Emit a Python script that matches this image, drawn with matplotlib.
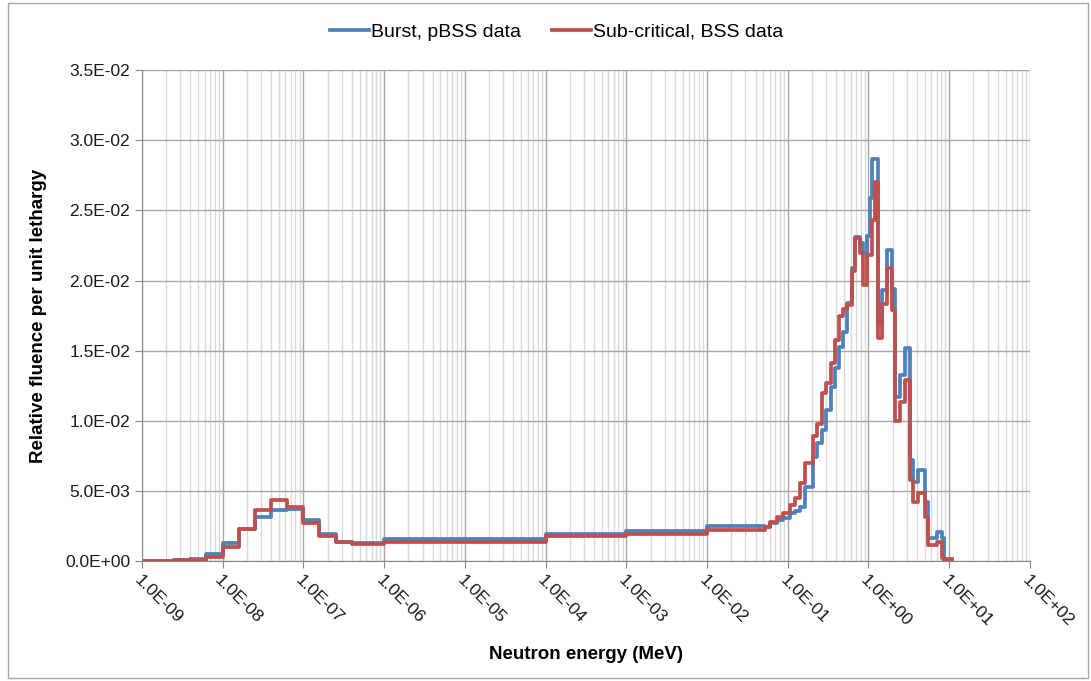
import numpy as np
import matplotlib
matplotlib.use("Agg")
import matplotlib.pyplot as plt
from matplotlib.ticker import LogLocator, NullFormatter, FuncFormatter, MultipleLocator
from matplotlib.patches import Rectangle

plt.rcParams['font.family'] = ['Liberation Sans', 'DejaVu Sans']

# bin edges (MeV): 5/decade thermal, then wide epithermal bins, then fine fast bins
edges_mev = [1.0e-9, 1.58e-9, 2.51e-9, 3.98e-9, 6.31e-9,
             1.0e-8, 1.58e-8, 2.51e-8, 3.98e-8, 6.31e-8,
             1.0e-7, 1.58e-7, 2.51e-7, 3.98e-7, 6.31e-7,
             1.0e-6, 1.0e-4, 1.0e-3, 1.0e-2,
             0.052, 0.060, 0.073, 0.087, 0.106, 0.122, 0.141, 0.163, 0.204, 0.229,
             0.264, 0.296, 0.340, 0.382, 0.428, 0.480, 0.538, 0.621, 0.676, 0.780,
             0.849, 0.951, 1.036, 1.097, 1.195, 1.302, 1.459, 1.683, 1.941, 2.114,
             2.438, 2.812, 3.243, 3.532, 4.074, 4.977, 5.42, 7.0, 8.07, 8.55, 10.7]

# relative fluence per unit lethargy, x1e-3
burst_pbss = [0.02, 0.03, 0.05, 0.15, 0.5, 1.26, 2.3, 3.16, 3.68, 3.7,
              2.92, 1.97, 1.38, 1.26, 1.3,
              1.55, 1.97, 2.18, 2.5,
              2.45, 2.69, 2.92, 3.1, 3.4, 3.6, 3.87, 5.3, 7.43, 8.4,
              9.34, 10.8, 12.4, 13.8, 15.3, 16.3, 18.4, 20.9, 23.1, 22.7,
              22.0, 23.2, 25.9, 28.7, 28.7, 16.9, 19.3, 22.2, 19.4, 11.7,
              13.3, 15.2, 7.2, 5.65, 6.5, 4.23, 1.62, 2.09, 1.62, 0.0]

subcrit_bss = [0.02, 0.03, 0.05, 0.1, 0.3, 1.0, 2.26, 3.68, 4.35, 3.83,
               2.73, 1.78, 1.33, 1.23, 1.22,
               1.35, 1.78, 1.95, 2.25,
               2.45, 2.8, 3.16, 3.44, 4.0, 4.5, 5.6, 7.0, 8.9, 9.8,
               12.0, 12.7, 14.1, 15.75, 17.5, 18.0, 18.25, 20.7, 23.0, 22.0,
               19.7, 21.8, 21.8, 24.3, 27.0, 15.9, 18.3, 20.9, 17.9, 10.0,
               11.35, 12.9, 5.77, 4.23, 4.83, 3.16, 1.14, 1.38, 0.19, 0.12]

series = [("Burst, pBSS data", burst_pbss, "#4F81BD"),
          ("Sub-critical, BSS data", subcrit_bss, "#C0504D")]

fig = plt.figure(figsize=(10.91, 6.81), dpi=100)
ax = fig.add_axes([0.130, 0.176, 0.814, 0.721])

x = np.array(edges_mev)
for name, vals, col in series:
    y = np.array(vals) * 1e-3
    y = np.append(y, y[-1])
    ax.plot(x, y, drawstyle='steps-post', color=col, lw=2.7, label=name)

ax.set_xscale('log')
ax.set_xlim(1e-9, 1e2)
ax.set_ylim(0, 0.035)
ax.yaxis.set_major_locator(MultipleLocator(0.005))
ax.xaxis.set_major_locator(LogLocator(base=10, numticks=20))
ax.xaxis.set_minor_locator(LogLocator(base=10, subs=np.arange(2, 10), numticks=20))
ax.xaxis.set_minor_formatter(NullFormatter())
ax.xaxis.set_major_formatter(FuncFormatter(lambda v, p: f"{v:.1E}"))
ax.yaxis.set_major_formatter(FuncFormatter(lambda v, p: f"{v:.1E}"))

ax.grid(True, which='major', axis='both', color='#A6A6A6', lw=1.0)
ax.grid(True, which='minor', axis='x', color='#D9D9D9', lw=1.0)
ax.set_axisbelow(True)

for s in ['top', 'right']:
    ax.spines[s].set_visible(False)
for s in ['left', 'bottom']:
    ax.spines[s].set_color('#868686')

ax.tick_params(axis='both', which='major', color='#868686', length=5, labelsize=12.5, labelcolor='#1a1a1a')
ax.tick_params(axis='x', which='minor', length=0)
plt.setp(ax.get_xticklabels(), rotation=-45, ha='left', va='top', rotation_mode='anchor')

ax.set_xlabel("Neutron energy (MeV)", fontsize=13.5, fontweight='bold', labelpad=12)
ax.set_ylabel("Relative fluence per unit lethargy", fontsize=13.5, fontweight='bold', labelpad=13)

fig.legend(loc='center', bbox_to_anchor=(0.51, 0.953), ncol=2, frameon=False,
           fontsize=14, handlelength=2.0, handletextpad=0.1, columnspacing=1.6)

fig.patches.append(Rectangle((0.007, 0.004), 0.99, 0.992, transform=fig.transFigure,
                             fill=False, edgecolor='#A6A6A6', lw=1.0))

fig.savefig("out.png", dpi=100)
